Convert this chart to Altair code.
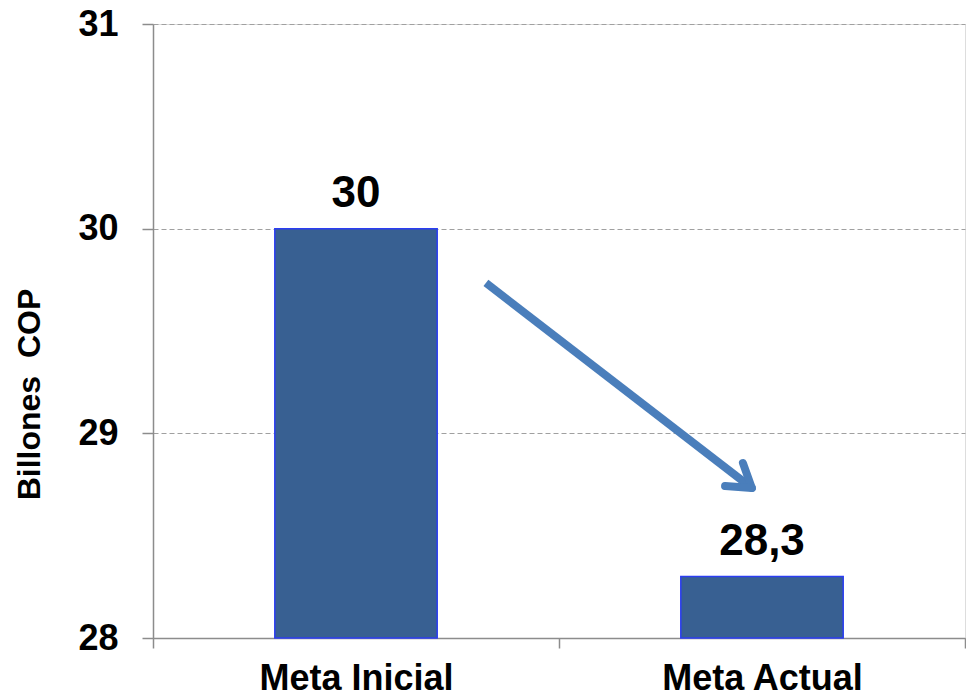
import altair as alt
import pandas as pd

# ---- data ----
categories = ["Meta Inicial", "Meta Actual"]
values = [30.0, 28.3]
value_labels = ["30", "28,3"]
y_ticks = [28, 29, 30, 31]
y_title = "Billones\u00a0\u00a0COP"

# arrow annotation, in (band units along x, value units along y)
arrow_shaft_x = [0.820, 1.475]
arrow_shaft_y = [29.735, 28.733]
arrow_arm_x = [1.453, 1.409]
arrow_arm_y = [28.855, 28.743]

FONT = "Liberation Sans"
BAR_FILL = "#386092"
BAR_STROKE = "#2B3DF2"
ARROW = "#4A7EBB"
AXIS_GRAY = "#8C8C8C"
GRID_GRAY = "#A0A0A0"

bars_df = pd.DataFrame({"cat": categories, "value": values, "label": value_labels})
shaft_df = pd.DataFrame({
    "x": [arrow_shaft_x[0]], "value": [arrow_shaft_y[0]],
    "x2": [arrow_shaft_x[1]], "y2": [arrow_shaft_y[1]],
})
arm_df = pd.DataFrame({
    "x": [arrow_shaft_x[1]] * len(arrow_arm_x), "value": [arrow_shaft_y[1]] * len(arrow_arm_y),
    "x2": arrow_arm_x, "y2": arrow_arm_y,
})

yscale = alt.Scale(domain=[28, 31], zero=False, nice=False)

x_cat = alt.X(
    "cat:N", sort=categories,
    scale=alt.Scale(paddingInner=0, paddingOuter=0),
    axis=alt.Axis(
        title=None, labelAngle=0, labelFontSize=36, labelFontWeight="bold",
        labelColor="#000000", labelPadding=13, tickSize=10, tickBand="extent",
        tickColor=AXIS_GRAY, tickWidth=1.5, domainColor=AXIS_GRAY, domainWidth=1.5,
        grid=False, labelFont=FONT, labelLimit=0,
    ),
)

y_axis = alt.Axis(
    values=y_ticks, format="d", title=y_title,
    labelFontSize=36, labelFontWeight="bold", labelColor="#000000", labelFont=FONT,
    labelPadding=24, tickSize=11, tickColor=AXIS_GRAY, tickWidth=1.5,
    domainColor=AXIS_GRAY, domainWidth=1.5,
    grid=True, gridColor=GRID_GRAY, gridDash=[5, 3], gridWidth=1,
    titleFontSize=32, titleFontWeight="bold", titleColor="#000000", titleFont=FONT,
    titleAngle=270, titleAlign="center", titleBaseline="alphabetic",
    titleX=-114, titleY=370,
)

y_enc = alt.Y("value:Q", scale=yscale, axis=y_axis)

bars = alt.Chart(bars_df).mark_bar(
    width={"band": 0.4}, fill=BAR_FILL, stroke=BAR_STROKE, strokeWidth=1.5
).encode(
    x=x_cat,
    y=y_enc,
    y2=alt.datum(28),
)

text = alt.Chart(bars_df).mark_text(
    font=FONT, fontSize=44, fontWeight="bold", color="#000000",
    baseline="alphabetic", dy=-22,
).encode(
    x=x_cat,
    y=y_enc,
    text="label:N",
)

base = alt.layer(bars, text)

xq = alt.Scale(domain=[0, 2], zero=False, nice=False)

shaft = alt.Chart(shaft_df).mark_rule(
    color=ARROW, strokeWidth=8, strokeCap="butt"
).encode(
    x=alt.X("x:Q", scale=xq, axis=None),
    x2="x2:Q",
    y=y_enc,
    y2="y2:Q",
)

arms = alt.Chart(arm_df).mark_rule(
    color=ARROW, strokeWidth=8, strokeCap="round"
).encode(
    x=alt.X("x:Q", scale=xq, axis=None),
    x2="x2:Q",
    y=y_enc,
    y2="y2:Q",
)

arrow = alt.layer(shaft, arms)

chart = alt.layer(base, arrow).resolve_scale(x="independent").properties(
    width=812, height=614,
    autosize=alt.AutoSizeParams(type="none"),
    padding={"left": 153, "top": 24, "right": 1, "bottom": 59},
    background="#FFFFFF",
).configure_view(stroke=None).configure(font=FONT)

chart.save("out.html", embed_options={"renderer": "svg", "actions": False})
